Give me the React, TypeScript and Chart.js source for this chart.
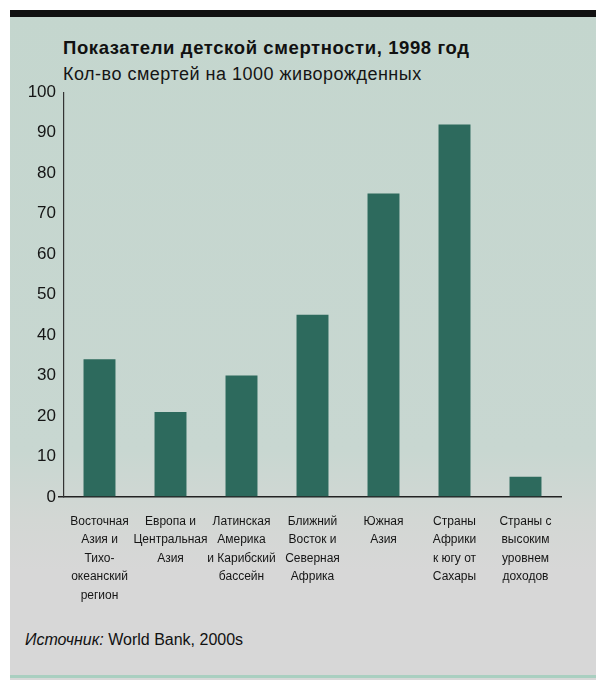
import React, { useEffect, useRef } from "react";
import { Chart, registerables } from "chart.js";
Chart.register(...registerables);

const categories: string[][] = [
  ["Восточная", "Азия и", "Тихо-", "океанский", "регион"],
  ["Европа и", "Центральная", "Азия"],
  ["Латинская", "Америка", "и Карибский", "бассейн"],
  ["Ближний", "Восток и", "Северная", "Африка"],
  ["Южная", "Азия"],
  ["Страны", "Африки", "к югу от", "Сахары"],
  ["Страны с", "высоким", "уровнем", "доходов"],
];
const mortality: number[] = [34, 21, 30, 45, 75, 92, 5];
const yMin = 0;
const yMax = 100;
const yStep = 10;

const title = "Показатели детской смертности, 1998 год";
const subtitle = "Кол-во смертей на 1000 живорожденных";
const sourceLabel = "Источник:";
const sourceText = " World Bank, 2000s";

const SANS = '"Liberation Sans", Arial, Helvetica, sans-serif';

export default function App() {
  const ref = useRef<HTMLCanvasElement | null>(null);
  useEffect(() => {
    if (!ref.current) return;
    const chart = new Chart(ref.current, {
      type: "bar",
      data: {
        labels: categories,
        datasets: [
          {
            data: mortality,
            backgroundColor: "#2d6a5d",
            borderWidth: 0,
            barPercentage: 0.45,
            categoryPercentage: 1,
          },
        ],
      },
      options: {
        responsive: false,
        animation: false,
        events: [],
        layout: { padding: { left: 0, right: 43, top: 12, bottom: 0 } },
        plugins: { legend: { display: false }, tooltip: { enabled: false } },
        scales: {
          x: {
            grid: { display: false },
            border: { display: true, color: "#222", width: 1.5 },
            ticks: {
              color: "#151515",
              font: { family: SANS, size: 12, lineHeight: 1.55 },
              maxRotation: 0,
              minRotation: 0,
              autoSkip: false,
              padding: 7,
            },
            afterFit: (s: any) => {
              s.height = 123;
            },
          },
          y: {
            min: yMin,
            max: yMax,
            grid: {
              drawOnChartArea: false,
              drawTicks: true,
              tickLength: 6,
              color: (c: any) => (c.tick && c.tick.value === 0 ? "#222" : "rgba(0,0,0,0)"),
              lineWidth: 1.5,
            },
            border: { display: true, color: "#333", width: 1.2 },
            ticks: {
              stepSize: yStep,
              color: "#151515",
              font: { family: SANS, size: 17 },
              padding: 2,
            },
            afterFit: (s: any) => {
              s.width = 64;
            },
          },
        },
      },
    });
    return () => chart.destroy();
  }, []);

  return (
    <div style={{ position: "absolute", left: 0, top: 0, width: 604, height: 682, background: "#ffffff", overflow: "hidden" }}>
      <div
        style={{
          position: "absolute",
          left: 10,
          top: 10,
          width: 586,
          height: 670,
          background: "linear-gradient(to bottom, #c4d6ce 0px, #c8d7d1 440px, #d3d7d4 510px, #d7d7d7 560px, #d7d7d7 670px)",
        }}
      />
      <div style={{ position: "absolute", left: 10, top: 10, width: 586, height: 7, background: "#111" }} />
      <div style={{ position: "absolute", left: 10, top: 675, width: 586, height: 3, background: "#a9cfc0" }} />
      <div
        style={{
          position: "absolute",
          left: 63,
          top: 37,
          fontFamily: SANS,
          fontWeight: "bold",
          fontSize: 18.5,
          letterSpacing: "0.6px",
          lineHeight: "22px",
          color: "#111",
          whiteSpace: "nowrap",
        }}
      >
        {title}
      </div>
      <div
        style={{
          position: "absolute",
          left: 63,
          top: 63,
          fontFamily: SANS,
          fontSize: 18,
          letterSpacing: "0.5px",
          lineHeight: "22px",
          color: "#151515",
          whiteSpace: "nowrap",
        }}
      >
        {subtitle}
      </div>
      <canvas ref={ref} width={604} height={540} style={{ position: "absolute", left: 0, top: 80, width: 604, height: 540 }} />
      <div
        style={{
          position: "absolute",
          left: 25,
          top: 630,
          fontFamily: SANS,
          fontSize: 16,
          lineHeight: "20px",
          color: "#111",
          whiteSpace: "nowrap",
        }}
      >
        <i>{sourceLabel}</i>
        {sourceText}
      </div>
    </div>
  );
}
